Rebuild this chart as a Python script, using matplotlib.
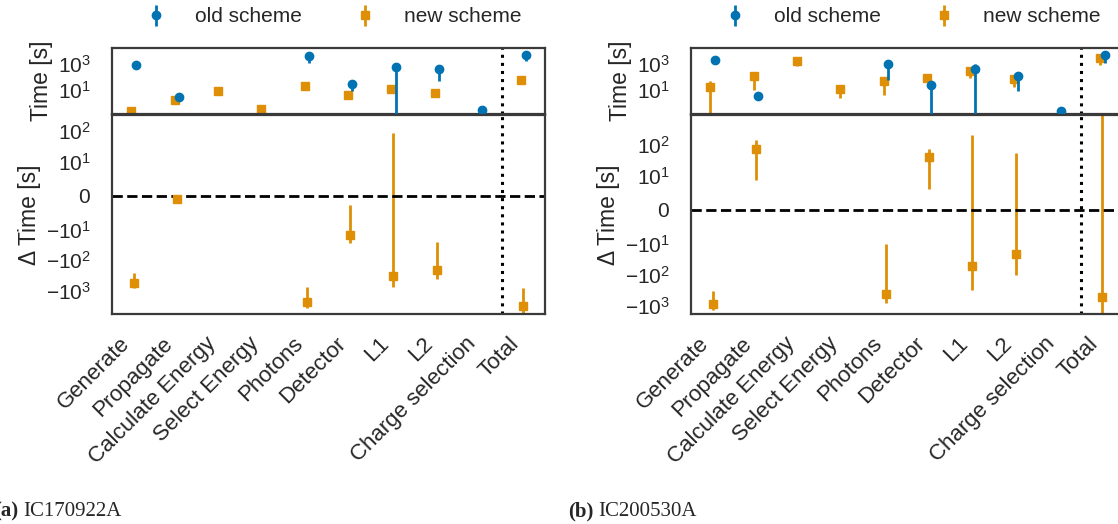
import numpy as np
import matplotlib.pyplot as plt

steps = ['Generate', 'Propagate', 'Calculate Energy', 'Select Energy', 'Photons',
         'Detector', 'L1', 'L2', 'Charge selection', 'Total']
nan = np.nan

# IC170922A
a_old = [840, 3.1, nan, nan, 3500, 29, 525, 354, 0.30, 4780]
a_old_err = [60, 0.3, nan, nan, 2370, 21, 530, 308, 0.02, 3290]
a_new = [0.25, 1.7, 8.1, 0.34, 19.6, 4.6, 11, 6.2, nan, 55]
a_new_err = [0.02, 0.2, 0.8, 0.03, 2, 0.5, 1.5, 0.8, nan, 6]
a_delta = [-535, -0.87, nan, nan, -2240, -14.8, -333, -213, nan, -3090]
a_delta_err = [275, 0.3, nan, nan, 1500, 12.2, 420, 188, nan, 2280]

# IC200530A
b_old = [2000, 3.4, nan, nan, 950, 22, 420, 124, 0.25, 4780]
b_old_err = [1050, 0.3, nan, nan, 890, 24, 430, 115, 0.02, 3590]
b_new = [17.4, 110, 1490, 11, 46, 83, 263, 74, nan, 2700]
b_new_err = [28, 100, 860, 8.4, 42, 8, 180, 57, nan, 1860]
b_delta = [-870, 74.6, nan, nan, -410, 39, -52, -22, nan, -515]
b_delta_err = [540, 66, nan, nan, 400, 33, 260, 78, nan, 2500]

plt.rcParams['font.family'] = ['Liberation Sans', 'DejaVu Sans']
plt.rcParams['font.size'] = 15
for k in ['text.color', 'axes.labelcolor', 'xtick.color', 'ytick.color']:
    plt.rcParams[k] = '#262626'
plt.rcParams['axes.edgecolor'] = '#3a3a3a'
plt.rcParams['axes.linewidth'] = 1.6

blue = '#0173B2'
orange = '#DE8F05'

fig = plt.figure(figsize=(11.18, 5.24), dpi=100)


def panel(x0, old, old_err, new, new_err, delta, delta_err, dlim, name, tag, tx):
    ax_t = fig.add_axes([x0, 0.7824, 0.3873, 0.126])
    ax_b = fig.add_axes([x0, 0.4008, 0.3873, 0.3798])
    x = np.arange(len(steps))

    h_old = ax_t.errorbar(x + 0.05, old, yerr=old_err, fmt='o', color=blue, ms=6,
                          elinewidth=2, capsize=0, zorder=3)
    h_new = ax_t.errorbar(x - 0.05, new, yerr=new_err, fmt='s', color=orange, ms=6,
                          elinewidth=2, capsize=0, zorder=2)
    ax_t.set_yscale('log')
    ax_t.set_ylim(0.155, 1.48e4)
    ax_t.set_yticks([10, 1000])
    ax_t.minorticks_off()
    ax_t.set_xticks([])
    ax_t.set_ylabel('Time [s]', fontsize=16.5)

    ax_b.errorbar(x, delta, yerr=delta_err, fmt='s', color=orange, ms=6,
                  elinewidth=2, capsize=0)
    ax_b.set_yscale('symlog', linthresh=10)
    ax_b.set_ylim(*dlim)
    ax_b.set_yticks([-1000, -100, -10, 0, 10, 100])
    ax_b.minorticks_off()
    ax_b.axhline(0, color='k', ls='--', lw=2)
    ax_b.set_xticks(x)
    ax_b.set_xticklabels(steps, rotation=45, ha='right', fontsize=16)
    ax_b.set_ylabel('Δ Time [s]', fontsize=16.5)

    for ax in (ax_t, ax_b):
        ax.set_xlim(-0.5, 9.5)
        ax.axvline(8.5, color='k', ls=':', lw=2.2)
        ax.tick_params(length=0)
        ax.tick_params(axis='y', pad=15)
        ax.tick_params(axis='x', pad=14)

    ax_t.legend([h_old, h_new], ['old scheme', 'new scheme'], loc='center',
                bbox_to_anchor=(0.5, 1.47), ncol=2, frameon=False,
                columnspacing=2.0, handletextpad=0.9)

    t = fig.text(tx, 1 - 511 / 524, tag, family='Liberation Serif',
                 fontweight='bold', fontsize=15, va='center', ha='left')
    fig.text(0, 0, name, family='Liberation Serif', fontsize=15,
             va='center', ha='left', transform=t.get_transform())
    return t


ta = panel(112 / 1118, a_old, a_old_err, a_new, a_new_err, a_delta, a_delta_err,
           (-5700, 340), 'IC170922A', '(a)', -5.5 / 1118)
tb = panel(691 / 1118, b_old, b_old_err, b_new, b_new_err, b_delta, b_delta_err,
           (-1900, 935), 'IC200530A', '(b)', 568 / 1118)

# put the event names right after the bold sub-figure tags
fig.canvas.draw()
for t in (ta, tb):
    bb = t.get_window_extent()
    idx = fig.texts.index(t)
    name = fig.texts[idx + 1]
    name.set_transform(fig.transFigure)
    name.set_position(((bb.x1 + 5) / fig.bbox.width, 1 - 511 / 524))

fig.savefig('out.png', dpi=100)
